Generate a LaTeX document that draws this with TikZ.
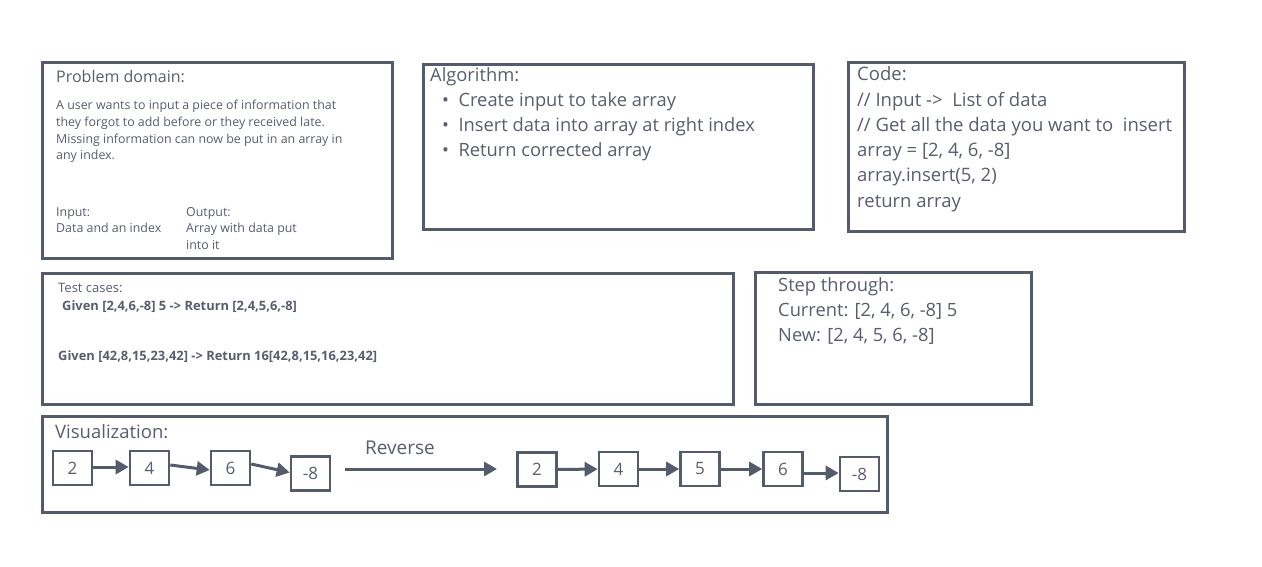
\documentclass[tikz,border=0pt]{standalone}
\usepackage{fontspec}
\setmainfont{Open Sans}
\usetikzlibrary{arrows.meta}
\definecolor{slate}{RGB}{84,91,107}
\definecolor{inkgray}{RGB}{88,94,110}
\tikzset{
  panel/.style={draw=slate, line width=3pt},
  cell/.style={draw=slate, line width=2.6pt, fill=white, minimum width=39pt,
    minimum height=34pt, inner sep=0pt, text=inkgray, font=\fontsize{17}{18}\selectfont},
  link/.style={draw=slate, line width=3pt,
    -{Triangle[length=13pt, width=14pt]}},
  txt/.style={anchor=north west, inner sep=0pt, text=inkgray, align=left},
  big/.style={txt, font=\fontsize{18.3}{25}\selectfont},
  small/.style={txt, font=\fontsize{12.4}{16.7}\selectfont}
}

\begin{document}
\begin{tikzpicture}[x=1pt, y=-1pt]
  \useasboundingbox (0,0) rectangle (1262,566);
  \fill[white] (0,0) rectangle (1262,566);

  % panels
  \draw[panel] (42,62) rectangle (392,258);
  \draw[panel] (423,64) rectangle (813,229);
  \draw[panel] (848,62) rectangle (1184,231);
  \draw[panel] (42,273) rectangle (733,404);
  \draw[panel] (755,272) rectangle (1031,404);
  \draw[panel] (42,416) rectangle (887,512);

  % problem domain
  \node[txt, font=\fontsize{16}{18}\selectfont] (probtitle) at (56,70) {Problem domain:};
  \node[small] (probtext) at (56,100) {A user wants to input a piece of information that\\
    they forgot to add before or they received late.\\
    Missing information can now be put in an array in\\
    any index.};
  \node[small] (inputlbl) at (56,207) {Input:\\Data and an index};
  \node[small] (outputlbl) at (186,207) {Output:\\Array with data put\\into it};

  % algorithm
  \node[big] (algotitle) at (430,67) {Algorithm:};
  \node[big] (algosteps) at (442,92.5) {\textbullet\hspace{9.5pt}Create input to take array\\
    \textbullet\hspace{9.5pt}Insert data into array at right index\\
    \textbullet\hspace{9.5pt}Return corrected array};

  % code
  \node[big, font=\fontsize{18.5}{25.3}\selectfont] (codetext) at (857,66.5) {Code:\\
    // Input ->\ \ List of data\\
    // Get all the data you want to\ \ insert\\
    array = [2, 4, 6, -8]\\
    array.insert(5, 2)\\
    return array};

  % test cases
  \node[txt, font=\fontsize{13}{14}\selectfont] (testtitle) at (58,283.5) {Test cases:};
  \node[txt, font=\fontsize{12.9}{14}\bfseries] (testone) at (62,300.5) {Given [2,4,6,-8] 5 -> Return [2,4,5,6,-8]};
  \node[txt, font=\fontsize{12.9}{14}\bfseries] (testtwo) at (58,350) {Given [42,8,15,23,42] -> Return 16[42,8,15,16,23,42]};

  % step through
  \node[big] (steptext) at (778,277) {Step through:\\
    Current: [2, 4, 6, -8] 5\\
    New: [2, 4, 5, 6, -8]};

  % visualization
  \node[txt, font=\fontsize{18.5}{20}\selectfont] (vistitle) at (55,424.5) {Visualization:};
  \node[cell] (a1) at (72.5,468) {2};
  \node[cell] (a2) at (149.5,468) {4};
  \node[cell] (a3) at (230.5,468) {6};
  \node[cell] (a4) at (310.5,473.5) {-8};
  \node[cell] (b1) at (537,469.5) {2};
  \node[cell] (b2) at (618.5,469) {4};
  \node[cell] (b3) at (700,469) {5};
  \node[cell] (b4) at (783,469) {6};
  \node[cell] (b5) at (859.5,474) {-8};

  \draw[link] ([yshift=1pt]a1.east) -- ([yshift=1pt]a2.west);
  \draw[link] ([yshift=3pt]a2.east) -- ([yshift=-2pt]a3.west);
  \draw[link] ([yshift=4pt]a3.east) -- ([yshift=1pt]a4.west);
  \draw[link] (b1) -- (b2);
  \draw[link] (b2) -- (b3);
  \draw[link] (b3) -- (b4);
  \draw[link] ([yshift=-4pt]b4.east) -- ([yshift=1pt]b5.west);

  \coordinate (revstart) at (345,469);
  \coordinate (revend) at (497,469);
  \draw[link] (revstart) -- (revend);
  \node[txt, font=\fontsize{19}{20}\selectfont] (revlabel) at (365,440.5) {Reverse};
\end{tikzpicture}
\end{document}
